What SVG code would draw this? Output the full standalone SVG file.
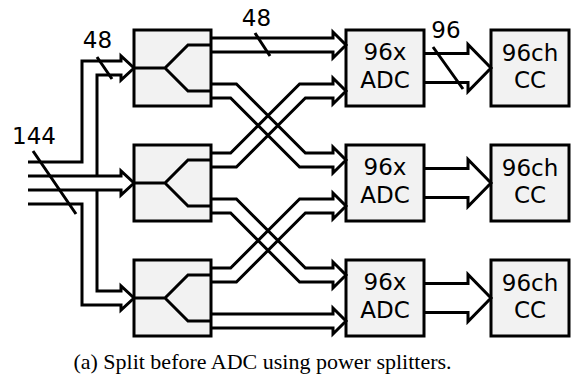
<svg xmlns="http://www.w3.org/2000/svg" width="571" height="376" viewBox="0 0 571 376">
<style>
.box{fill:#f2f2f2;stroke:#000;stroke-width:3}
.ln{fill:none;stroke:#000;stroke-width:3;stroke-linejoin:miter}
.t{font-family:"DejaVu Sans",Verdana,sans-serif;font-size:23px;fill:#000;text-anchor:middle}
.cap{font-family:"Liberation Serif","Times New Roman",serif;font-size:22px;fill:#000;text-anchor:middle}
</style>
<rect width="571" height="376" fill="#fff"/>
<g id="splitter1"><rect class="box" x="134" y="30" width="77" height="76"/><path class="ln" d="M134,68 H165 L188,45 H211 M165,68 L188,91 H211"/></g>
<g id="splitter2"><rect class="box" x="134" y="145" width="77" height="76"/><path class="ln" d="M134,183 H165 L188,160 H211 M165,183 L188,206 H211"/></g>
<g id="splitter3"><rect class="box" x="134" y="260" width="77" height="76"/><path class="ln" d="M134,298 H165 L188,275 H211 M165,298 L188,321 H211"/></g>
<g id="adc1"><rect class="box" x="346" y="30" width="78" height="76"/><text class="t" x="385" y="60">96x</text><text class="t" x="385" y="88">ADC</text></g>
<g id="adc2"><rect class="box" x="346" y="145" width="78" height="76"/><text class="t" x="385" y="175">96x</text><text class="t" x="385" y="203">ADC</text></g>
<g id="adc3"><rect class="box" x="346" y="260" width="78" height="76"/><text class="t" x="385" y="290">96x</text><text class="t" x="385" y="318">ADC</text></g>
<g id="cc1"><rect class="box" x="491" y="30" width="78" height="76"/><text class="t" x="530" y="61">96ch</text><text class="t" x="530" y="88">CC</text></g>
<g id="cc2"><rect class="box" x="491" y="145" width="78" height="76"/><text class="t" x="530" y="176">96ch</text><text class="t" x="530" y="203">CC</text></g>
<g id="cc3"><rect class="box" x="491" y="260" width="78" height="76"/><text class="t" x="530" y="291">96ch</text><text class="t" x="530" y="318">CC</text></g>
<g id="connectors">
<path class="ln" d="M28,162 H82 V61 H121 V56 L134,68 L121,80 V75 H97 V176"/>
<path class="ln" d="M28,176 H121 V171 L134,183 L121,195 V190 H28"/>
<path class="ln" d="M97,190 V291 H121 V286 L134,298 L121,310 V305 H82 V204 H28"/>
<path class="ln" d="M211,38 H333 V32 L346,45 L333,58 V52 H211"/>
<path class="ln" d="M211,84 H236.4 L305.4,153 H333 V147 L346,160 L333,173 V167 H299.6 L230.6,98 H211"/>
<path class="ln" d="M211,153 H230.6 L299.6,84 H333 V78 L346,91 L333,104 V98 H305.4 L236.4,167 H211"/>
<path class="ln" d="M211,199 H236.4 L305.4,268 H333 V262 L346,275 L333,288 V282 H299.6 L230.6,213 H211"/>
<path class="ln" d="M211,268 H230.6 L299.6,199 H333 V193 L346,206 L333,219 V213 H305.4 L236.4,282 H211"/>
<path class="ln" d="M211,314 H333 V308 L346,321 L333,334 V328 H211"/>
<path class="ln" d="M424,53.5 H468 V44.5 L491,68 L468,91.5 V82.5 H424"/>
<path class="ln" d="M424,168.5 H468 V159.5 L491,183 L468,206.5 V197.5 H424"/>
<path class="ln" d="M424,283.5 H468 V274.5 L491,298 L468,321.5 V312.5 H424"/>
<path class="ln" d="M33,151 L76,214 M97,57 L112,79 M255,33 L270,56 M433,47 L463,89"/>
</g>
<text class="t" x="34" y="144">144</text>
<text class="t" x="97.5" y="48">48</text>
<text class="t" x="256.5" y="26">48</text>
<text class="t" x="446" y="38">96</text>
<text class="cap" x="262.5" y="369">(a) Split before ADC using power splitters.</text>
</svg>
